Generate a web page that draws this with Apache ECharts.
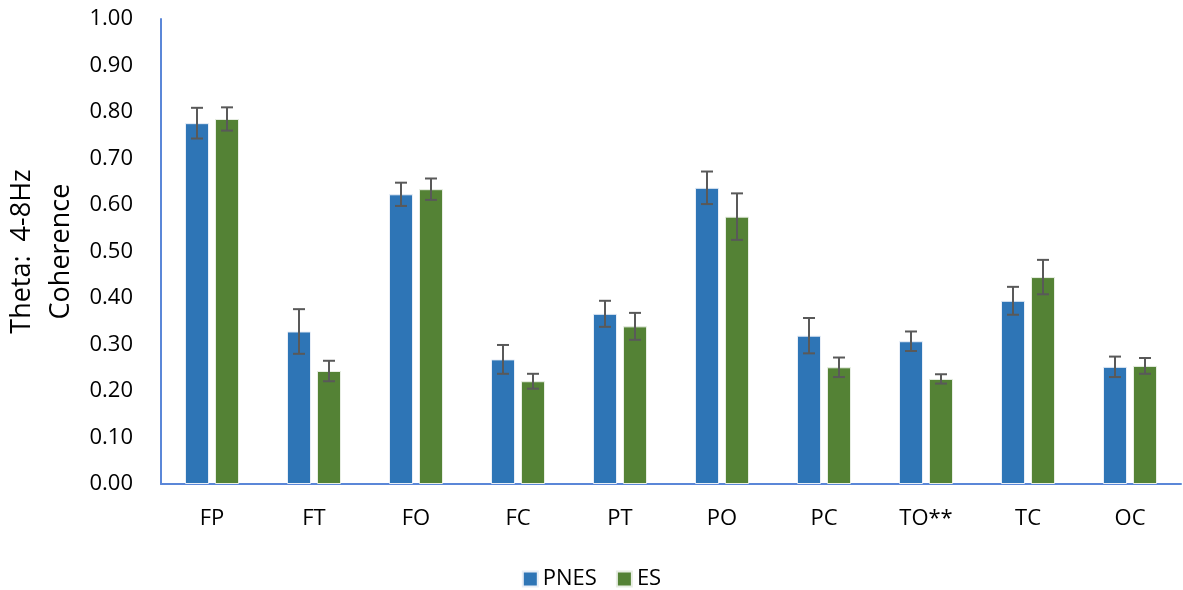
<!DOCTYPE html>
<html><head><meta charset="utf-8">
<script src="https://cdn.jsdelivr.net/npm/echarts@6/dist/echarts.min.js"></script>
<style>html,body{margin:0;padding:0;background:#fff}#c{width:1183px;height:590px}</style>
</head><body><div id="c"></div>
<script>
const categories = ['FP','FT','FO','FC','PT','PO','PC','TO**','TC','OC'];
const pnes = [0.776,0.328,0.623,0.268,0.366,0.637,0.319,0.307,0.394,0.252];
const pnesErr = [0.033,0.048,0.025,0.031,0.028,0.035,0.038,0.021,0.030,0.022];
const es = [0.785,0.243,0.634,0.221,0.339,0.575,0.251,0.226,0.445,0.254];
const esErr = [0.025,0.022,0.023,0.016,0.029,0.050,0.021,0.010,0.037,0.017];
const yTicks = ['0.00','0.10','0.20','0.30','0.40','0.50','0.60','0.70','0.80','0.90','1.00'];

const FONT = 'Open Sans';
const BAR_W = 24, GAP = 6;
function errSeries(vals, errs, offset){
  return {
    type:'custom', silent:true, z:5,
    data: vals.map((v,i)=>[i, v, errs[i]]),
    renderItem:function(params, api){
      const i = api.value(0), v = api.value(1), e = api.value(2);
      const top = api.coord([i, v+e]);
      const bot = api.coord([i, v-e]);
      const x = top[0] + offset;
      const st = {stroke:'#595959', lineWidth:2};
      return {type:'group', children:[
        {type:'line', shape:{x1:x,y1:top[1],x2:x,y2:bot[1]}, style:st},
        {type:'line', shape:{x1:x-6,y1:top[1],x2:x+6,y2:top[1]}, style:st},
        {type:'line', shape:{x1:x-6,y1:bot[1],x2:x+6,y2:bot[1]}, style:st}
      ]};
    }
  };
}
const chart = echarts.init(document.getElementById('c'));
chart.setOption({
  animation:false,
  textStyle:{fontFamily:FONT},
  grid:{left:161, right:2, top:19, bottom:106, containLabel:false, outerBoundsMode:'none'},
  legend:{
    data:['PNES','ES'], top:563, left:'center',
    icon:'rect', itemWidth:15, itemHeight:15, itemGap:19,
    textStyle:{fontSize:22, color:'#000', fontFamily:FONT}
  },
  xAxis:{
    type:'category', data:categories,
    axisLine:{lineStyle:{color:'#5B87D8', width:2}},
    axisTick:{show:false},
    axisLabel:{fontSize:22, color:'#000', margin:24, fontFamily:FONT}
  },
  yAxis:{
    type:'value', min:0, max:1, interval:0.1,
    name:'Theta:  4-8Hz\nCoherence', nameLocation:'middle', nameRotate:90, nameGap:80,
    nameMoveOverlap:false,
    nameTextStyle:{fontSize:27, color:'#000', lineHeight:39, fontFamily:FONT},
    axisLine:{show:true, lineStyle:{color:'#5B87D8', width:2}},
    axisTick:{show:false},
    splitLine:{show:false},
    axisLabel:{fontSize:22, color:'#000', margin:28, fontFamily:FONT,
      formatter:function(v){ return yTicks[Math.round(v*10)]; }}
  },
  series:[
    {name:'PNES', type:'bar', data:pnes, barWidth:BAR_W, barGap:'25%',
     itemStyle:{color:'#2E75B6', borderColor:'#E8EEF7', borderWidth:1}},
    {name:'ES', type:'bar', data:es, barWidth:BAR_W, barGap:'25%',
     itemStyle:{color:'#548235', borderColor:'#E8EEE4', borderWidth:1}},
    errSeries(pnes, pnesErr, -(BAR_W+GAP)/2),
    errSeries(es, esErr, (BAR_W+GAP)/2)
  ]
});
</script></body></html>
